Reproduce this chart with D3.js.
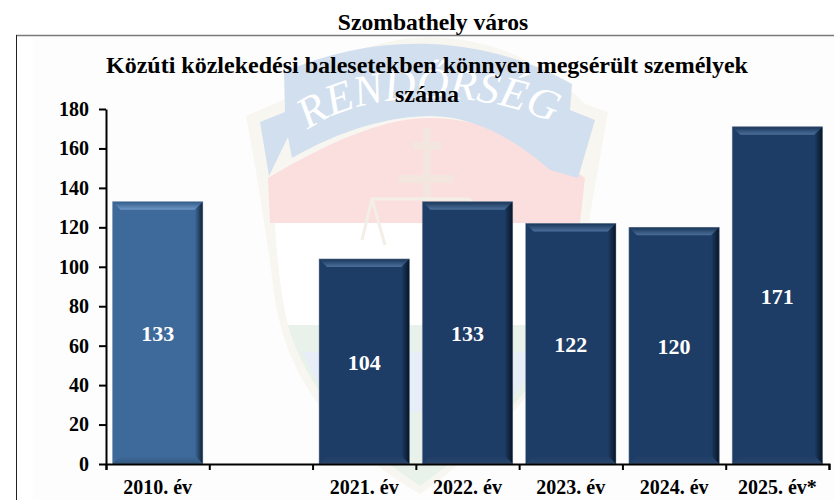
<!DOCTYPE html>
<html><head><meta charset="utf-8">
<script src="https://cdn.jsdelivr.net/npm/d3@7/dist/d3.min.js"></script>
<style>html,body{margin:0;padding:0;background:#fff}svg{display:block}text{font-family:"Liberation Serif","Times New Roman",serif;font-weight:bold}</style>
</head><body><svg id="c" width="834" height="500"></svg>
<script>
const categories = ["2010. év", "", "2021. év", "2022. év", "2023. év", "2024. év", "2025. év*"];
const values = [133, null, 104, 133, 122, 120, 171];
const yTicks = [0, 20, 40, 60, 80, 100, 120, 140, 160, 180];
const pageTitle = "Szombathely város";
const chartTitle = ["Közúti közlekedési balesetekben könnyen megsérült személyek", "száma"];
const palette = {light:{base:"#3e6a9b",top:"#6f97c4",topDark:"#2f5a8a",side:"#0f2236",bottom:"#34597f"},
                 dark:{base:"#1d3c66",top:"#4b6f9b",topDark:"#183558",side:"#071524",bottom:"#2a466b"}};

const svg = d3.select("#c");
const m = {left:106, right:829, top:109, bottom:464};
const x = d3.scaleBand().domain(d3.range(categories.length)).range([m.left,m.right]).paddingInner(0.125).paddingOuter(0.0625);
const xEdge = d3.scaleLinear().domain([0,categories.length]).range([m.left,m.right]);
const y = d3.scaleLinear().domain([0,180]).range([m.bottom,m.top]);
const defs = svg.append("defs");

// frame
svg.append("rect").attr("x",16).attr("y",35).attr("width",818).attr("height",465).attr("fill","#fdfdfd");
svg.append("rect").attr("x",17).attr("y",36).attr("width",16).attr("height",464).attr("fill","#fff");

// watermark
const wm = svg.append("g").attr("class","watermark");
wm.append("path").attr("d","M246,116 L283,100 C330,55 380,38 430,37 C490,38 545,62 585,104 L608,112 L590,215 C585,300 560,370 500,425 C470,455 445,478 420,494 C395,480 375,465 350,440 C310,400 285,360 275,300 C270,260 260,190 246,116 Z").attr("fill","#f8f6f0");
wm.append("path").attr("d","M268,178 C340,135 390,118 430,118 C480,118 535,140 585,178 L580,223 L270,223 Z").attr("fill","#fbdfdf");
wm.append("path").attr("d","M275,223 H578 C576,270 570,300 560,325 H288 C282,300 277,265 275,223 Z").attr("fill","#ffffff");
wm.append("path").attr("d","M288,325 H560 C545,375 510,420 420,486 C350,440 305,385 288,325 Z").attr("fill","#e8f1ea");
wm.append("path").attr("d","M303,352 H540 C530,375 515,395 498,412 H340 C325,395 312,375 303,352 Z").attr("fill","#e8eef8");
wm.append("path").attr("d","M260,122 L285,112 L284,72 C330,52 380,42 430,44 C480,46 530,60 572,84 L570,110 L595,120 L578,178 L550,170 C510,135 470,116 430,116 C390,116 340,130 292,158 L288,137 L269,176 Z").attr("fill","#d2dfef");
wm.append("path").attr("d","M427,128 V222 M413,146 H441 M398,179 H453").attr("stroke","#f3e6df").attr("stroke-width",8).attr("fill","none");
wm.append("path").attr("d","M370,199 H470 M372,199 L362,240 M372,199 L385,245 M470,199 L458,245 M470,199 L484,240").attr("stroke","#f3eee6").attr("stroke-width",3).attr("fill","none");
defs.append("path").attr("id","wmArc").attr("d","M306,132 C355,90 495,82 575,136");
wm.append("text").append("textPath").attr("href","#wmArc").attr("startOffset","1%")
  .text("RENDŐRSÉG").attr("fill","#ffffff").attr("font-size",44).style("font-weight","normal").style("font-style","italic").attr("letter-spacing",0);

// frame lines
svg.append("line").attr("x1",16).attr("x2",834).attr("y1",35.5).attr("y2",35.5).attr("stroke","#7a7a7a").attr("stroke-width",1.5);
svg.append("line").attr("x1",16.5).attr("x2",16.5).attr("y1",35).attr("y2",500).attr("stroke","#222").attr("stroke-width",1);

// titles
svg.append("text").attr("x",433).attr("y",30).attr("text-anchor","middle").attr("font-size",23.6).text(pageTitle);
svg.selectAll(".ct").data(chartTitle).join("text").attr("class","ct").attr("x",427).attr("y",(d,i)=>73+i*29)
  .attr("text-anchor","middle").attr("font-size",24).text(d=>d);

// gradients
function grad(id,x2,y2,c1,c2){const g=defs.append("linearGradient").attr("id",id).attr("x1",0).attr("y1",0).attr("x2",x2).attr("y2",y2);
  g.append("stop").attr("offset",0).attr("stop-color",c1);g.append("stop").attr("offset",1).attr("stop-color",c2);}
Object.entries(palette).forEach(([k,p])=>{
  grad("top-"+k,0,1,p.topDark,p.top);
  grad("right-"+k,1,0,p.base,p.side);
  grad("bot-"+k,0,1,p.base,p.bottom);
});

// bars
const data = categories.map((c,i)=>({c,i,v:values[i]})).filter(d=>d.v!=null);
const bev = 8;
const bars = svg.selectAll(".bar").data(data).join("g").attr("class","bar")
  .attr("transform",d=>`translate(${x(d.i)},${y(d.v)})`);
const kind = d=>d.i===0?"light":"dark";
const bw = x.bandwidth();
const bh = d=>y(0)-y(d.v);
bars.append("rect").attr("width",bw).attr("height",bh).attr("fill",d=>palette[kind(d)].base);
bars.append("polygon").attr("points",`0,0 ${bw},0 ${bw-bev},${bev} ${bev},${bev}`).attr("fill",d=>`url(#top-${kind(d)})`);
bars.append("polygon").attr("points",d=>`${bw},0 ${bw},${bh(d)} ${bw-bev},${bh(d)-bev} ${bw-bev},${bev}`).attr("fill",d=>`url(#right-${kind(d)})`);
bars.append("polygon").attr("points",d=>`0,${bh(d)} ${bw},${bh(d)} ${bw-bev},${bh(d)-bev} ${bev},${bh(d)-bev}`).attr("fill",d=>`url(#bot-${kind(d)})`);
bars.append("rect").attr("width",bw).attr("height",bh).attr("fill","none").attr("stroke","#8c97a6").attr("stroke-opacity",.55).attr("stroke-width",.8);
bars.append("text").attr("x",bw/2).attr("y",d=>bh(d)/2+8.5).attr("text-anchor","middle").attr("fill","#fff").attr("font-size",22).text(d=>d.v);

// axes
const yAxis = d3.axisLeft(y).tickValues(yTicks).tickSize(7).tickSizeOuter(0).tickPadding(10);
const ga = svg.append("g").attr("transform",`translate(${m.left},0)`).call(yAxis);
ga.selectAll("text").attr("font-size",20).attr("font-family",null).attr("fill","#000");
ga.selectAll("line,path").attr("stroke","#000").attr("stroke-width",2);
const xAxis = d3.axisBottom(xEdge).ticks(categories.length).tickFormat("").tickSize(6).tickSizeOuter(6);
const gb = svg.append("g").attr("transform",`translate(0,${m.bottom})`).call(xAxis);
gb.selectAll("line,path").attr("stroke","#000").attr("stroke-width",2).attr("fill","none");
svg.selectAll(".xl").data(categories.map((c,i)=>({c,i})).filter(d=>d.c)).join("text").attr("class","xl")
  .attr("x",d=>x(d.i)+bw/2).attr("y",494).attr("text-anchor","middle").attr("font-size",20).text(d=>d.c);
</script></body></html>
